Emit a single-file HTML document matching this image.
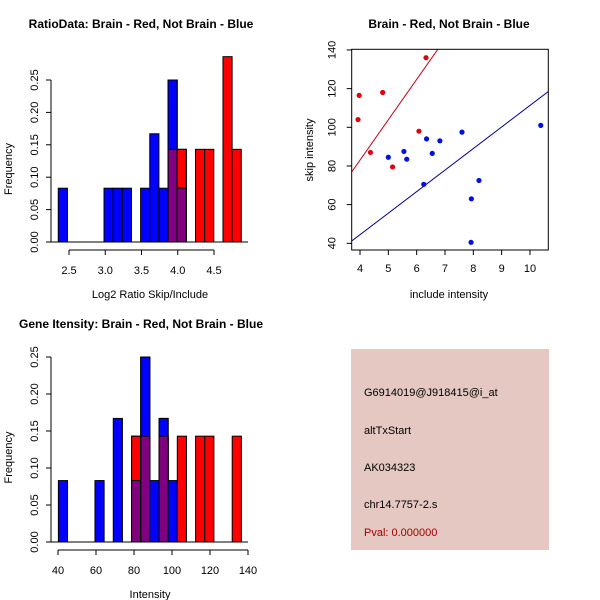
<!DOCTYPE html>
<html><head><meta charset="utf-8"><style>
body{margin:0;background:#fff}
svg{display:block;font-family:"Liberation Sans",sans-serif}
</style></head><body>
<svg id="c" width="600" height="600" xmlns="http://www.w3.org/2000/svg">
<rect x="351" y="349" width="198" height="201" fill="#e5c8c1"/>
<text x="364" y="396" font-size="11">G6914019@J918415@i_at</text>
<text x="364" y="434" font-size="11">altTxStart</text>
<text x="364" y="471" font-size="11">AK034323</text>
<text x="364" y="508" font-size="11">chr14.7757-2.s</text>
<text x="364" y="536" font-size="11" fill="#a00000">Pval: 0.000000</text>
</svg>
<script>
// Histogram 1 (log2 ratio)
const h1Start=2.352, h1Width=0.1262;
const h1Blue=[0.083,0,0,0,0,0.083,0.083,0.083,0,0.083,0.167,0.083,0.25,0.083,0,0,0,0,0,0];
const h1Red=[0,0,0,0,0,0,0,0,0,0,0,0,0.143,0.143,0,0.143,0.143,0,0.286,0.143];
const h1XTicks=[2.5,3.0,3.5,4.0,4.5];
const h1XLabels=["2.5","3.0","3.5","4.0","4.5"];
// Histogram 2 (intensity)
const h2Start=40.2, h2Width=4.815;
const h2Blue=[0.083,0,0,0,0.083,0,0.167,0,0.083,0.25,0.083,0.167,0.083,0,0,0,0,0,0,0];
const h2Red=[0,0,0,0,0,0,0,0,0.143,0.143,0,0.143,0,0.143,0,0.143,0.143,0,0,0.143];
const h2XTicks=[40,60,80,100,120,140];
const yTicks=[0,0.05,0.10,0.15,0.20,0.25];
const yLabels=["0.00","0.05","0.10","0.15","0.20","0.25"];
// Scatter
const redX=[3.97,3.93,4.8,4.37,5.15,6.08,6.33];
const redY=[116.5,104,118,87,79.5,98,136];
const blueX=[5.0,5.55,5.65,6.25,6.35,6.55,6.82,7.6,7.93,7.92,8.2,10.38];
const blueY=[84.5,87.5,83.5,70.5,94,86.5,93,97.5,63,40.5,72.5,101];
const redLine=[-0.4,20.86];
const blueLine=[-0.1,11.14];
const sXTicks=[4,5,6,7,8,9,10];
const sYTicks=[40,60,80,100,120,140];

const svg=document.getElementById('c');
const NS='http://www.w3.org/2000/svg';
function mk(tag,attrs,parent){const e=document.createElementNS(NS,tag);for(const k in attrs)e.setAttribute(k,attrs[k]);(parent||svg).appendChild(e);return e;}
function txt(x,y,s,size,extra,parent){const t=mk('text',Object.assign({x:x,y:y,'font-size':size,'text-anchor':'middle'},extra||{}),parent);t.textContent=s;return t;}

function hist(cfg){
  const g=mk('g',{});
  
  
  const sx=v=>cfg.x0+(v-cfg.xv0)*cfg.kx;
  const sy=v=>cfg.y0-v*cfg.ky;
  for(let i=0;i<cfg.blue.length;i++){
    const l=sx(cfg.start+i*cfg.w), r=sx(cfg.start+(i+1)*cfg.w);
    const b=cfg.blue[i], rd=cfg.red[i];
    if(rd>0){const e=mk('rect',{x:l,y:sy(rd),width:r-l,height:sy(0)-sy(rd),fill:'#ff0000',stroke:'#000'},g);
      }
    if(b>0){const e=mk('rect',{x:l,y:sy(b),width:r-l,height:sy(0)-sy(b),fill:'#0000ff',stroke:'#000'},g);
      }
    const m=Math.min(b,rd);
    if(m>0){const e=mk('rect',{x:l,y:sy(m),width:r-l,height:sy(0)-sy(m),fill:'#800080',stroke:'#000'},g);
      }
    if(b>0&&rd>0){mk('rect',{x:l,y:sy(Math.max(b,rd)),width:r-l,height:sy(0)-sy(Math.max(b,rd)),fill:'none',stroke:'#000'},g);}
  }
  mk('line',{x1:51,x2:248,y1:sy(0),y2:sy(0),stroke:'#000'},g);
  mk('line',{x1:51,x2:51,y1:sy(0),y2:sy(0.25),stroke:'#000'},g);
  yTicks.forEach((v,i)=>{mk('line',{x1:46,x2:51,y1:sy(v),y2:sy(v),stroke:'#000'},g);
    txt(0,0,yLabels[i],11,{transform:`translate(38,${sy(v)}) rotate(-90)`},g);});
  const ay=cfg.y0+8;
  mk('line',{x1:sx(cfg.ticks[0]),x2:sx(cfg.ticks[cfg.ticks.length-1]),y1:ay,y2:ay,stroke:'#000'},g);
  cfg.ticks.forEach((v,i)=>{mk('line',{x1:sx(v),x2:sx(v),y1:ay,y2:ay+5,stroke:'#000'},g);
    txt(sx(v),ay+24,cfg.labels[i],11,{},g);});
  const xl=txt(150,cfg.y0+56,cfg.xlab,11,{},g);
  
  const yl=txt(0,0,'Frequency',11,{transform:`translate(12,${sy(0.125)+8}) rotate(-90)`},g);
  
  const t=txt(141,cfg.y0-214,cfg.title,12,{'font-weight':'bold'},g);
  
}
hist({name:'ratio-histogram',start:h1Start,w:h1Width,blue:h1Blue,red:h1Red,x0:69,xv0:2.5,kx:72.5,y0:242,ky:648,
  ticks:h1XTicks,labels:h1XLabels,xlab:'Log2 Ratio Skip/Include',title:'RatioData: Brain - Red, Not Brain - Blue'});
hist({name:'intensity-histogram',start:h2Start,w:h2Width,blue:h2Blue,red:h2Red,x0:58,xv0:40,kx:1.9,y0:542,ky:740,
  ticks:h2XTicks,labels:h2XTicks.map(String),xlab:'Intensity',title:'Gene Itensity: Brain - Red, Not Brain - Blue'});

(function(){
  const g=mk('g',{});
  
  
  const L=351.7,R=548.3,T=49.3,B=250;
  const sx=v=>360+(v-4)*28.33;
  const sy=v=>243.3-(v-40)*1.9333;
  const xmin=4+(L-360)/28.33, xmax=4+(R-360)/28.33;
  const clip=mk('clipPath',{id:'sc'},g);mk('rect',{x:L,y:T,width:R-L,height:B-T},clip);
  const ln=(c,col,name)=>{const e=mk('line',{x1:sx(xmin),y1:sy(c[0]+c[1]*xmin),x2:sx(xmax),y2:sy(c[0]+c[1]*xmax),stroke:col,'clip-path':'url(#sc)'},g);
    };
  ln(redLine,'#c0001a','red-fit-line');ln(blueLine,'#000090','blue-fit-line');
  redX.forEach((x,i)=>{const e=mk('circle',{cx:sx(x),cy:sy(redY[i]),r:2.6,fill:'#e00010'},g);
    });
  blueX.forEach((x,i)=>{const e=mk('circle',{cx:sx(x),cy:sy(blueY[i]),r:2.6,fill:'#0010e0'},g);
    });
  mk('rect',{x:L,y:T,width:R-L,height:B-T,fill:'none',stroke:'#000'},g);
  sXTicks.forEach(v=>{mk('line',{x1:sx(v),x2:sx(v),y1:B,y2:B+5,stroke:'#000'},g);txt(sx(v),B+22,String(v),11,{},g);});
  sYTicks.forEach(v=>{mk('line',{x1:L-5,x2:L,y1:sy(v),y2:sy(v),stroke:'#000'},g);
    txt(0,0,String(v),11,{transform:`translate(${L-16},${sy(v)}) rotate(-90)`},g);});
  const xl=txt(449,298,'include intensity',11,{},g);
  
  const yl=txt(0,0,'skip intensity',11,{transform:`translate(313,150) rotate(-90)`},g);
  
  const t=txt(449,28,'Brain - Red, Not Brain - Blue',12,{'font-weight':'bold'},g);
  
})();
</script>
</body></html>
